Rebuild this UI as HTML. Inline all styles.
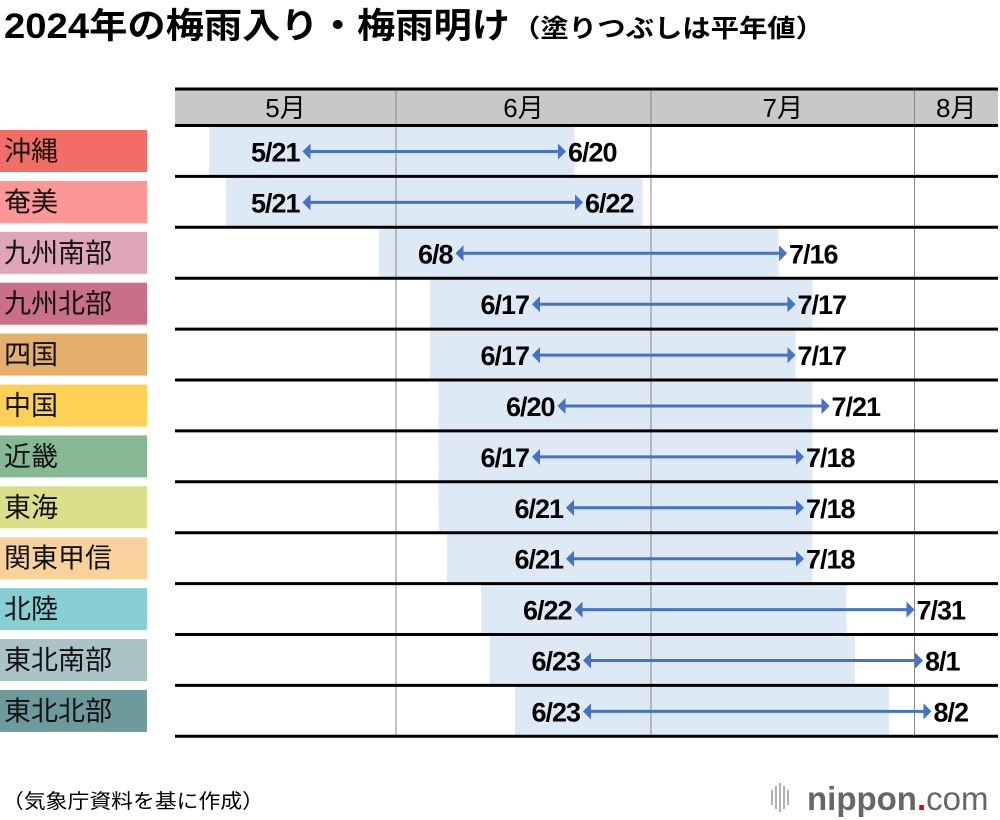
<!DOCTYPE html>
<html><head><meta charset="utf-8"><style>
body{margin:0;background:#fff;width:1000px;height:820px;overflow:hidden;font-family:"Liberation Sans","Noto Sans CJK JP",sans-serif}
svg{display:block}
</style></head><body>
<svg id="chart" width="1000" height="820" xmlns="http://www.w3.org/2000/svg">
<text x="4" y="38" font-size="35" font-weight="bold" textLength="506" lengthAdjust="spacingAndGlyphs" font-family="Liberation Sans, Noto Sans CJK JP, sans-serif">2024年の梅雨入り・梅雨明け</text>
<text x="512" y="37" font-size="25" font-weight="bold" textLength="312" lengthAdjust="spacingAndGlyphs" font-family="Liberation Sans, Noto Sans CJK JP, sans-serif">（塗りつぶしは平年値）</text>
<text x="2" y="808" font-size="20" textLength="262" lengthAdjust="spacingAndGlyphs" font-family="Liberation Sans, Noto Sans CJK JP, sans-serif">（気象庁資料を基に作成）</text>
<g>
<g stroke="#999" stroke-width="1.5"><line x1="772" y1="790" x2="772" y2="805"/><line x1="776" y1="786" x2="776" y2="809"/><line x1="780" y1="783" x2="780" y2="812"/><line x1="784" y1="786" x2="784" y2="809"/><line x1="788" y1="790" x2="788" y2="805"/></g>
<text x="807" y="810" font-size="33" font-weight="bold" fill="#666" font-family="Liberation Sans, sans-serif">nippon<tspan fill="#e60012">.</tspan><tspan font-weight="normal">com</tspan></text>
</g>
<g id="plot"></g>
</svg>
<script>
const regions=["沖縄","奄美","九州南部","九州北部","四国","中国","近畿","東海","関東甲信","北陸","東北南部","東北北部"];
const regionColors=["#f26d66","#fd9797","#dea6b8","#c96f87","#e5ae6b","#fdd155","#86b993","#dbdf89","#f8d19b","#88cfd4","#a9c3c7","#6d9b9b"];
const startDates=["5/21","5/21","6/8","6/17","6/17","6/20","6/17","6/21","6/21","6/22","6/23","6/23"];
const endDates=["6/20","6/22","7/16","7/17","7/17","7/21","7/18","7/18","7/18","7/31","8/1","8/2"];
const normalStart=["5/10","5/12","5/30","6/5","6/5","6/6","6/6","6/6","6/7","6/11","6/12","6/15"];
const normalEnd=["6/21","6/29","7/15","7/19","7/17","7/19","7/19","7/19","7/19","7/23","7/24","7/28"];
const months=["5月","6月","7月","8月"];

const NS="http://www.w3.org/2000/svg";
const plotG=document.getElementById('plot');
const X0=175,X1=998,JUN1=396,PXD=8.5,ROW_TOP=125.5,RH=50.9;
function dayIdx(s){const [m,d]=s.split('/').map(Number);const off={5:-31,6:0,7:30,8:61}[m];return off+d-1;}
function xStart(s){return JUN1+dayIdx(s)*PXD;}
function xEnd(s){return JUN1+(dayIdx(s)+1)*PXD;}
function rowY(i){return ROW_TOP+i*RH;}
function mk(tag,attrs){const e=document.createElementNS(NS,tag);for(const k in attrs)e.setAttribute(k,attrs[k]);plotG.appendChild(e);return e;}

const hdr=mk('rect',{x:X0,y:88,width:X1-X0,height:37,fill:"#c8c8c8"});


const monthBounds=[X0,xStart("6/1"),xStart("7/1"),xStart("8/1"),X1];
months.forEach((m,i)=>{
  const t=mk('text',{x:(monthBounds[i]+monthBounds[i+1])/2,y:117,'font-size':26,'text-anchor':'middle'});
  t.textContent=m;
  
  
});
regions.forEach((r,i)=>{
  const y=rowY(i);
  const s=mk('rect',{x:xStart(normalStart[i]),y:y+1.5,width:xEnd(normalEnd[i])-xStart(normalStart[i]),height:RH-3,fill:"#dde9f5"});
  
  
});
[1,2,3].forEach(i=>{
  const l=mk('line',{x1:monthBounds[i],x2:monthBounds[i],y1:88,y2:rowY(12),stroke:"#888","stroke-width":1});
  
  
});
for(let i=0;i<=12;i++){
  const l=mk('line',{x1:X0,x2:X1,y1:rowY(i),y2:rowY(i),stroke:"#000","stroke-width":3});
  
  
}
const headerTop=mk('line',{x1:X0,x2:X1,y1:89,y2:89,stroke:"#000","stroke-width":3});



regions.forEach((r,i)=>{
  const y=rowY(i);
  const b=mk('rect',{x:0,y:y+4.5,width:147,height:42,fill:regionColors[i]});
  
  
  const t=mk('text',{x:4,y:y+35,'font-size':27,fill:"#111"});
  t.textContent=r;
  
  
  const xs=xStart(startDates[i]),xe=xEnd(endDates[i]),cy=y+26;
  const ln=mk('line',{x1:xs+4,x2:xe-4,y1:cy,y2:cy,stroke:"#4472c4","stroke-width":3});
  
  
  const h1=mk('polygon',{points:`${xs},${cy} ${xs+8},${cy-8} ${xs+8},${cy+8}`,fill:"#4472c4"});
  
  
  const h2=mk('polygon',{points:`${xe},${cy} ${xe-8},${cy-8} ${xe-8},${cy+8}`,fill:"#4472c4"});
  
  
  const ts=mk('text',{x:xs-3,y:cy+10,'font-size':27,'font-weight':'bold','text-anchor':'end','letter-spacing':'-1'});
  ts.textContent=startDates[i];
  
  
  const te=mk('text',{x:xe+2,y:cy+10,'font-size':27,'font-weight':'bold','letter-spacing':'-1'});
  te.textContent=endDates[i];
  
  
});
</script>
</body></html>
